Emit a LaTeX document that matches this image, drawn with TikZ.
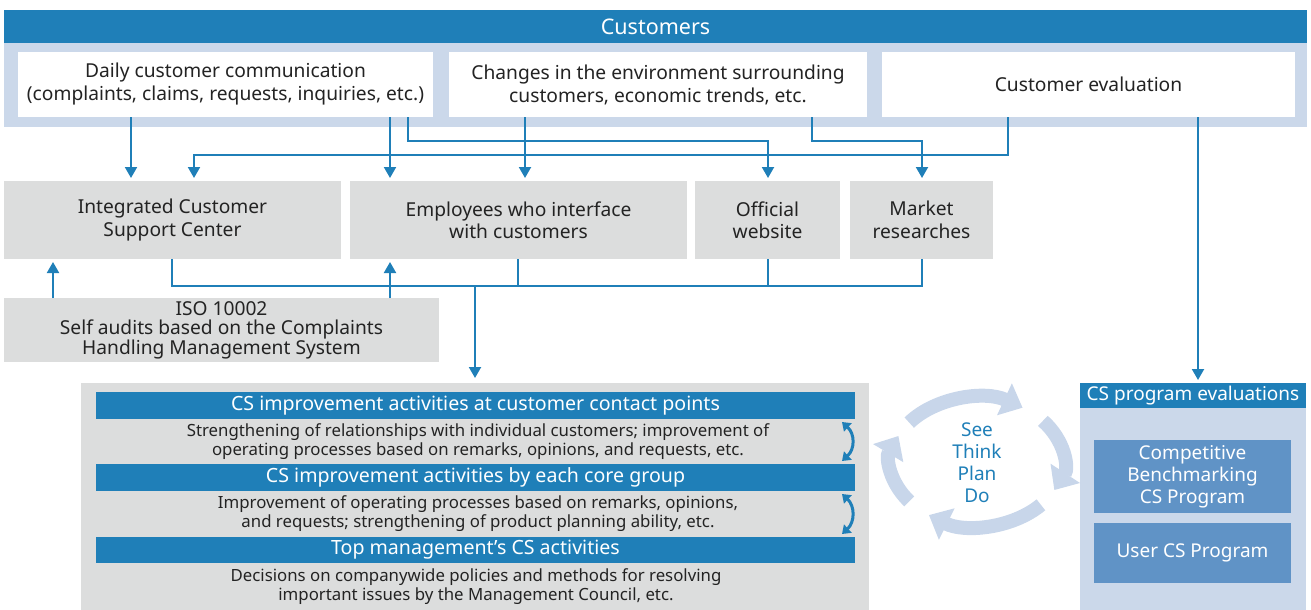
\documentclass[tikz,border=0pt]{standalone}
\usepackage{fontspec}
\setmainfont{Noto Sans}
\usetikzlibrary{arrows.meta,calc}
\definecolor{dblue}{RGB}{31,127,184}
\definecolor{lband}{RGB}{203,216,234}
\definecolor{gbox}{RGB}{220,221,221}
\definecolor{mblue}{RGB}{96,147,198}
\definecolor{cyc}{RGB}{200,214,234}
\definecolor{txt}{RGB}{35,35,35}
\begin{document}
\begin{tikzpicture}[x=1pt,y=-1pt,
  rbox/.style={rectangle, inner sep=0pt, outer sep=0pt, align=center, anchor=north west, text=txt},
  whitebox/.style={rbox, fill=white, font=\fontsize{19.2}{23}\selectfont},
  graybox/.style={rbox, fill=gbox, font=\fontsize{19.2}{22.5}\selectfont},
  barbox/.style={rbox, fill=dblue, text=white, font=\fontsize{19.6}{21}\selectfont},
  desc/.style={align=center, text=txt, inner sep=0pt, font=\fontsize{16.8}{19}\selectfont},
  midbox/.style={rbox, fill=mblue, text=white, font=\fontsize{19}{22}\selectfont},
  conn/.style={draw=dblue, line width=2pt},
  arr/.style={conn, -{Triangle[length=11pt,width=12pt]}, shorten >=3pt},
  cycarr/.style={draw=cyc, line width=14pt, -{Triangle[length=20pt,width=34pt]}},
  dbl/.style={draw=dblue, line width=3pt, {Triangle[length=8pt,width=11pt]}-{Triangle[length=8pt,width=11pt]}}
]
\useasboundingbox (0,0) rectangle (1311,610);
% top band
\fill[lband] (4,43) rectangle (1307,127);
\node[rbox, fill=dblue, text=white, minimum width=1303pt, minimum height=33pt, font=\fontsize{21.5}{24}\selectfont] (cust) at (4,10) {Customers};
\node[whitebox, minimum width=415pt, minimum height=65pt] (daily) at (18,52) {Daily customer communication\\(complaints, claims, requests, inquiries, etc.)};
\node[whitebox, minimum width=418pt, minimum height=65pt] (chg) at (449,52) {Changes in the environment surrounding\\customers, economic trends, etc.};
\node[whitebox, minimum width=413pt, minimum height=65pt] (eval) at (882,52) {Customer evaluation};
% row 2
\node[graybox, minimum width=337pt, minimum height=78pt] (icsc) at (4,181) {Integrated Customer\\Support Center};
\node[graybox, minimum width=337pt, minimum height=78pt] (emp) at (350,181) {Employees who interface\\with customers};
\node[graybox, minimum width=145pt, minimum height=78pt] (web) at (695,181) {Official\\website};
\node[graybox, minimum width=143pt, minimum height=78pt] (mkt) at (850,181) {Market\\researches};
\node[graybox, minimum width=435pt, minimum height=64pt, font=\fontsize{19.2}{19}\selectfont] (iso) at (4,298) {ISO 10002\\Self audits based on the Complaints\\Handling Management System};
% bottom gray panel
\node[rbox, fill=gbox, minimum width=788pt, minimum height=227pt] (act) at (81,383) {};
\node[barbox, minimum width=759pt, minimum height=27pt] (bar1) at (96,392) {CS improvement activities at customer contact points};
\node[desc] (d1) at (478,442) {Strengthening of relationships with individual customers; improvement of\\operating processes based on remarks, opinions, and requests, etc.};
\node[barbox, minimum width=759pt, minimum height=27pt] (bar2) at (96,464) {CS improvement activities by each core group};
\node[desc] (d2) at (478,514) {Improvement of operating processes based on remarks, opinions,\\and requests; strengthening of product planning ability, etc.};
\node[barbox, minimum width=759pt, minimum height=26pt] (bar3) at (96,537) {Top management’s CS activities};
\node[desc] (d3) at (476,587) {Decisions on companywide policies and methods for resolving\\important issues by the Management Council, etc.};
\draw[dbl] ($(bar1.south east)+(-13,3)$) .. controls +(13,12) and +(13,-12) .. ($(bar2.north east)+(-13,-3)$);
\draw[dbl] ($(bar2.south east)+(-13,3)$) .. controls +(13,12) and +(13,-12) .. ($(bar3.north east)+(-13,-3)$);
% CS program evaluations
\node[rbox, fill=lband, minimum width=226pt, minimum height=227pt] (csp) at (1080,383) {};
\node[rbox, fill=dblue, text=white, minimum width=226pt, minimum height=25pt, font=\fontsize{19}{22}\selectfont] (csph) at (1080,383) {CS program evaluations};
\node[midbox, minimum width=197pt, minimum height=73pt] (bench) at (1094,440) {Competitive\\Benchmarking\\CS Program};
\node[midbox, minimum width=197pt, minimum height=60pt] (user) at (1094,523) {User CS Program};
% cycle
\coordinate (cc) at (977,462);
\draw[cycarr] (cc) ++(-142:86 and 64) arc[start angle=-142, end angle=-58, x radius=86, y radius=64];
\draw[cycarr] (cc) ++(-40:86 and 64) arc[start angle=-40, end angle=26, x radius=86, y radius=64];
\draw[cycarr] (cc) ++(42:86 and 64) arc[start angle=42, end angle=124, x radius=86, y radius=64];
\draw[cycarr] (cc) ++(142:86 and 64) arc[start angle=142, end angle=204, x radius=86, y radius=64];
\node[align=center, text=dblue, inner sep=0pt, font=\fontsize{19}{22}\selectfont] (pdca) at (977,463) {See\\Think\\Plan\\Do};
% column coordinates
\foreach \n/\x in {c53/53,c131/131,c172/172,c194/194,c390/390,c408/408,c475/475,c518/518,c525/525,c768/768,c812/812,c922/922,c1008/1008,c1198/1198}{\coordinate (\n) at (\x,0);}
\coordinate (r141) at (0,141);
\coordinate (r155) at (0,155);
\coordinate (r286) at (0,286);
% connectors from top
\draw[arr] (daily.south -| c131) -- (icsc.north -| c131);
\draw[arr] (daily.south -| c390) -- (emp.north -| c390);
\draw[arr] (daily.south -| c408) |- (r141 -| c768) -- (web.north -| c768);
\draw[arr] (chg.south -| c525) -- (emp.north -| c525);
\draw[arr] (chg.south -| c812) |- (r141 -| c922) -- (mkt.north -| c922);
\draw[arr] (eval.south -| c1008) |- (r155 -| c194) -- (icsc.north -| c194);
\draw[arr] (eval.south -| c1198) -- (csph.north -| c1198);
% from ISO up
\draw[arr] (iso.north -| c53) -- (icsc.south -| c53);
\draw[arr] (iso.north -| c390) -- (emp.south -| c390);
% collector
\draw[conn] (icsc.south -| c172) |- (r286 -| c922) -- (mkt.south -| c922);
\draw[conn] (emp.south -| c518) -- (r286 -| c518);
\draw[conn] (web.south -| c768) -- (r286 -| c768);
\draw[arr, shorten >=5pt] (r286 -| c475) -- (act.north -| c475);
\end{tikzpicture}
\end{document}
